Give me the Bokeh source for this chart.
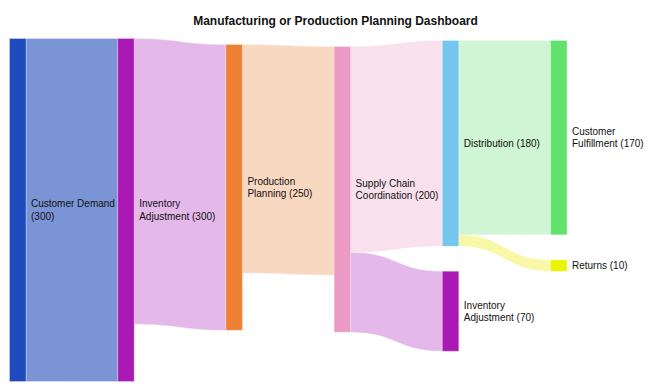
import numpy as np
from bokeh.plotting import figure
from bokeh.models import Range1d, Label, ColumnDataSource
from bokeh.core.properties import value
from bokeh.embed import file_html
from bokeh.resources import INLINE

# ---------------- data ----------------
title_text = "Manufacturing or Production Planning Dashboard"
node_names = ["Customer Demand", "Inventory\nAdjustment", "Production\nPlanning",
              "Supply Chain\nCoordination", "Distribution", "Inventory\nAdjustment",
              "Customer\nFulfillment", "Returns"]
node_label_values = [300, 300, 250, 200, 180, 70, 170, 10]
node_colors = ["#1f4bbe", "#aa19b4", "#ee8034", "#eb9bc6", "#74c6ec", "#aa19b4", "#60e26c", "#eaf500"]

link_source = [0, 1, 2, 3, 3, 4, 4]
link_target = [1, 2, 3, 4, 5, 6, 7]
link_values = [300, 250, 200, 180, 70, 170, 10]
link_colors = ["#7a94d6", "#e4b9ea", "#f9d8c2", "#f8e0ec", "#e4b9ea", "#cff5d4", "#f8f8a8"]

# ---------------- layout (node arrangement, like plotly node.x / node.y) ----------------
node_column = [0, 1, 2, 3, 4, 4, 5, 5]
node_top = [0.0, 0.0, 5.25, 7.0, 1.75, 203.5, 1.75, 193.6]   # in flow units from top
label_sep = ["\n", " ", " ", " ", " ", " ", " ", " "]

W, H = 650, 392
PX_PER_UNIT = 343 / 300
COL_PX = 108.2
NODE_W = 16.5 / COL_PX
TOP_PAD_PX = 38
LEFT_PAD_PX = 9

x0 = -LEFT_PAD_PX / COL_PX
x1 = x0 + W / COL_PX
ytop = -TOP_PAD_PX / PX_PER_UNIT
ybot = ytop + H / PX_PER_UNIT

p = figure(width=W, height=H, x_range=Range1d(x0, x1), y_range=Range1d(ybot, ytop),
           output_backend="svg", toolbar_location=None, min_border=0,
           x_axis_location=None, y_axis_location=None)
p.grid.visible = False
p.outline_line_color = None
p.background_fill_color = "white"
p.border_fill_color = "white"

n = len(node_names)
inflow = [0.0] * n
outflow = [0.0] * n
for s, t, v in zip(link_source, link_target, link_values):
    outflow[s] += v
    inflow[t] += v
node_size = [max(a, b) for a, b in zip(inflow, outflow)]

# link stacking offsets
out_off = list(node_top)
in_off = list(node_top)
link_ys = {}
for i in sorted(range(len(link_values)), key=lambda i: node_top[link_target[i]]):
    s = link_source[i]
    link_ys.setdefault(i, {})["s"] = out_off[s]
    out_off[s] += link_values[i]
for i in sorted(range(len(link_values)), key=lambda i: node_top[link_source[i]]):
    t = link_target[i]
    link_ys[i]["t"] = in_off[t]
    in_off[t] += link_values[i]

tt = np.linspace(0, 1, 50)
xs_list, ys_list = [], []
for i, v in enumerate(link_values):
    s, t = link_source[i], link_target[i]
    xa = node_column[s] + NODE_W
    xb = node_column[t]
    xm = (xa + xb) / 2
    bx = (1 - tt) ** 3 * xa + 3 * (1 - tt) ** 2 * tt * xm + 3 * (1 - tt) * tt ** 2 * xm + tt ** 3 * xb
    h = lambda y0, y1: (1 - tt) ** 3 * y0 + 3 * (1 - tt) ** 2 * tt * y0 + 3 * (1 - tt) * tt ** 2 * y1 + tt ** 3 * y1
    ys0, yt0 = link_ys[i]["s"], link_ys[i]["t"]
    top = h(ys0, yt0)
    bot = h(ys0 + v, yt0 + v)
    xs_list.append(np.concatenate([bx, bx[::-1]]))
    ys_list.append(np.concatenate([top, bot[::-1]]))

p.patches(xs=xs_list, ys=ys_list, fill_color=link_colors, line_color="white", line_width=0.5, line_alpha=0.6)

nsrc = ColumnDataSource(dict(
    left=[c for c in node_column],
    right=[c + NODE_W for c in node_column],
    top=node_top,
    bottom=[a + b for a, b in zip(node_top, node_size)],
    color=node_colors,
))
p.quad(left="left", right="right", top="top", bottom="bottom", source=nsrc,
       fill_color="color", line_color="white", line_width=0.5, line_alpha=0.6)

labels = [f"{nm}{sep}({v})" for nm, sep, v in zip(node_names, label_sep, node_label_values)]
lsrc = ColumnDataSource(dict(
    x=[c + NODE_W for c in node_column],
    y=[a + b / 2 for a, b in zip(node_top, node_size)],
    text=labels,
))
p.text(x="x", y="y", text="text", source=lsrc, x_offset=5, text_align="left",
       text_baseline="middle", text_font=value("Liberation Sans"), text_font_size="10px",
       text_color="#111111", text_line_height=1.1)

p.add_layout(Label(x=335, y=H - 20, x_units="screen", y_units="screen", text=title_text,
                   text_align="center", text_baseline="alphabetic",
                   text_font="Liberation Sans", text_font_style="bold",
                   text_font_size="12px", text_color="#111111"))

open("out.html", "w").write(file_html(p, INLINE))
